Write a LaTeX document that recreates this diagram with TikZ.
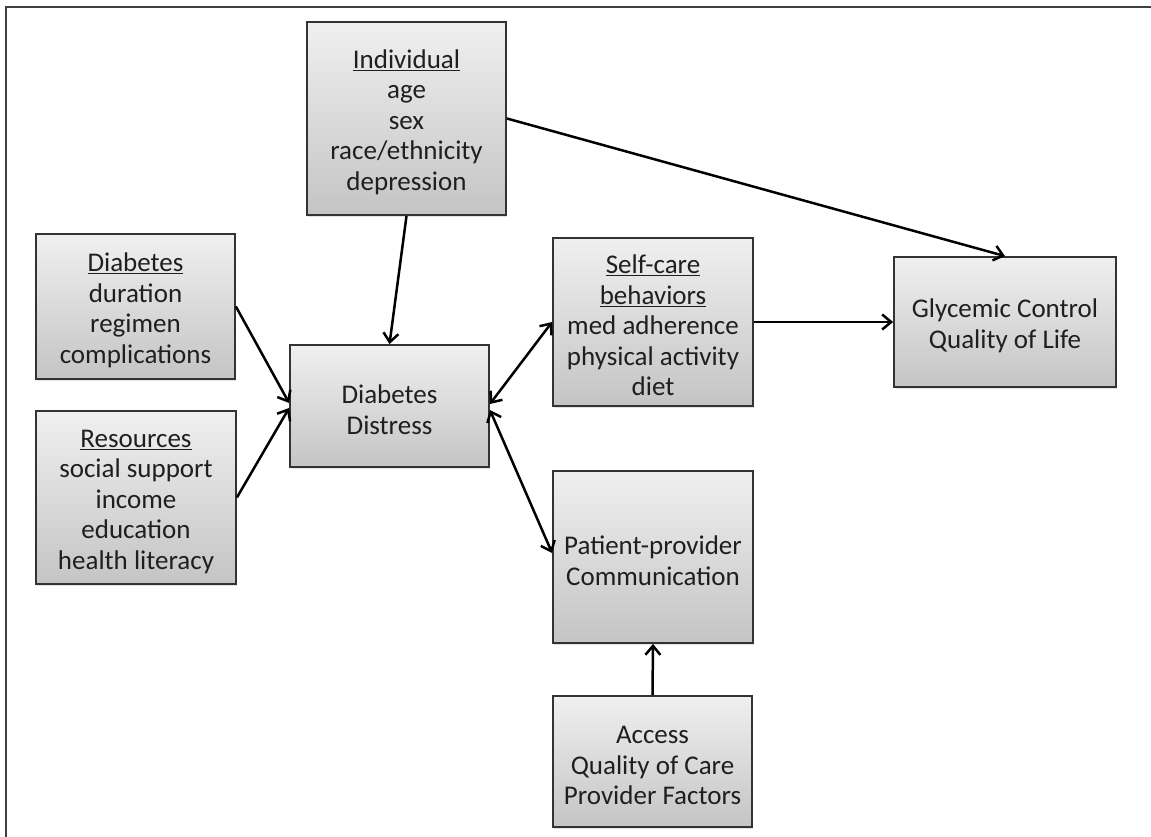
\documentclass[tikz,border=0pt]{standalone}
\usepackage{fontspec}
\setmainfont{Carlito}
\usetikzlibrary{arrows.meta,shadows}
\newcommand\topstrut{\rule{0pt}{26pt}}
\begin{document}
\begin{tikzpicture}[x=1pt,y=-1pt,
  box/.style={draw=black!80, line width=1.8pt, top color=black!6, bottom color=black!23,
    align=center, inner sep=2pt, text=black!88,
    font=\fontsize{27}{30.5}\selectfont,
    drop shadow={opacity=0.22, shadow xshift=1pt, shadow yshift=-2pt}},
  arr/.style={line width=2.5pt, draw=black, -{Straight Barb[length=9pt,width=15pt,line width=2.5pt]}},
  darr/.style={line width=2.5pt, draw=black, {Straight Barb[length=9pt,width=15pt,line width=2.5pt]}-{Straight Barb[length=9pt,width=15pt,line width=2.5pt]}},
  frame/.style={draw=black!75, line width=1.8pt}]
\useasboundingbox (0,0) rectangle (1151,837);
% frame
\coordinate (ftl) at (6,7);
\coordinate (ftr) at (1151,7);
\coordinate (fbl) at (6,837);
\draw[frame] (ftr) -- (ftl) -- (fbl);
% boxes
\node[box, minimum width=199pt, minimum height=193pt] (ind) at (406.5,118.5)
  {\topstrut\underline{Individual}\\age\\sex\\race/ethnicity\\depression};
\node[box, minimum width=199pt, minimum height=145pt] (dia) at (135.5,306.5)
  {\topstrut\underline{Diabetes}\\duration\\regimen\\complications};
\node[box, minimum width=200pt, minimum height=173pt] (res) at (136,497.5)
  {\topstrut\underline{Resources}\\social support\\income\\education\\health literacy};
\node[box, minimum width=199pt, minimum height=122pt] (dd) at (389.5,406)
  {\topstrut Diabetes\\Distress};
\node[box, minimum width=200pt, minimum height=168pt] (sc) at (653,322)
  {\topstrut\underline{Self-care}\\\underline{behaviors}\\med adherence\\physical activity\\diet};
\node[box, minimum width=222pt, minimum height=130pt] (gc) at (1005,322)
  {\topstrut Glycemic Control\\Quality of Life};
\node[box, minimum width=200pt, minimum height=172pt] (pp) at (653,557)
  {\topstrut Patient-provider\\Communication};
\node[box, minimum width=199pt, minimum height=131pt] (acc) at (652.5,761.5)
  {\topstrut Access\\Quality of Care\\Provider Factors};
% connectors
\draw[arr] (ind.south) -- (dd.north);
\draw[arr] (dia.east) -- ([yshift=3pt]dd.west);
\draw[arr] (res.east) -- ([yshift=-2pt]dd.west);
\draw[darr] ([yshift=2pt]dd.east) -- (sc.west);
\draw[darr] ([yshift=-4pt]dd.east) -- ([yshift=4pt]pp.west);
\draw[arr] (sc.east) -- (gc.west);
\draw[arr] (ind.east) -- (gc.north);
\draw[arr] (acc.north) -- (pp.south);
\end{tikzpicture}
\end{document}
